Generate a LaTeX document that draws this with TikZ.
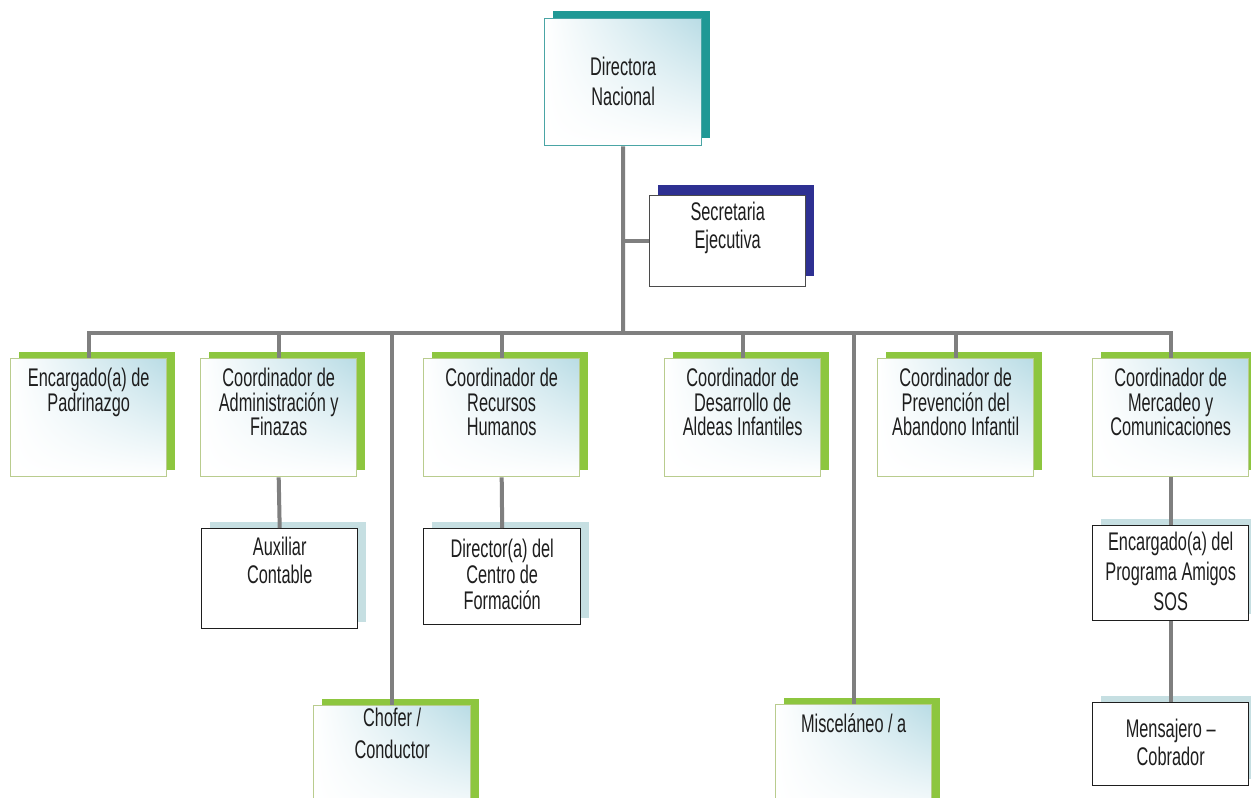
\documentclass[tikz,border=0pt]{standalone}
\usepackage{fontspec}
\newfontfamily\orgfont[FakeStretch=0.64]{Liberation Sans}
\usetikzlibrary{shadows,shadings}

\definecolor{leaf}{HTML}{8DC63F}
\definecolor{leafedge}{HTML}{B9CC8E}
\definecolor{teal}{HTML}{1F9895}
\definecolor{tealedge}{HTML}{4AA5A5}
\definecolor{navy}{HTML}{2E3092}
\definecolor{paleblue}{HTML}{B9DCE5}
\definecolor{iceblue}{HTML}{C6DFE2}
\definecolor{linegray}{HTML}{7F7F7F}
\definecolor{ink}{HTML}{1E1E1E}

\tikzset{
  boxw/.store in=\boxw, boxh/.store in=\boxh,
  firstbase/.store in=\boxtop, lskip/.store in=\boxskip,
  boxw=156pt, boxh=118pt, firstbase=28pt, lskip=24.5pt,
  unit/.style={anchor=north west, inner sep=0pt, text=ink, line width=1.4pt,
    execute at begin node={\orgfont\fontsize{25.5}{\boxskip}\selectfont
      \begin{minipage}[t][\boxh][t]{\boxw}\centering\rule{0pt}{\boxtop}},
    execute at end node={\end{minipage}}},
  shaded/.style={shade, upper left=white, upper right=paleblue,
    lower left=white, lower right=white},
  coord/.style={unit, shaded, draw=leafedge,
    general shadow={fill=leaf, shadow xshift=8pt, shadow yshift=7pt}},
  helper/.style={unit, fill=white, draw=ink,
    general shadow={fill=iceblue, shadow xshift=8pt, shadow yshift=7pt}},
  conn/.style={draw=linegray, line width=4pt}
}

\begin{document}
\begin{tikzpicture}[x=1pt,y=-1pt]
  \useasboundingbox (0,0) rectangle (1251,798);
  \clip (0,0) rectangle (1251,798);
  \fill[white] (0,0) rectangle (1251,798);

  % top of the chart
  \node[unit, shaded, draw=tealedge, boxw=157pt, boxh=127pt, firstbase=57pt, lskip=30pt,
    general shadow={fill=teal, shadow xshift=8pt, shadow yshift=8pt}]
    (dir) at (544,18) {Directora\\Nacional};
  \node[unit, fill=white, draw=ink!80, boxh=91pt, firstbase=25pt, lskip=28pt,
    general shadow={fill=navy, shadow xshift=8pt, shadow yshift=11pt}]
    (sec) at (649,195) {Secretaria\\Ejecutiva};

  % coordinators
  \node[coord] (padr) at (10,358) {Encargado(a) de\\Padrinazgo};
  \node[coord] (admin) at (200,358) {Coordinador de\\Administración y\\Finazas};
  \node[coord] (rrhh) at (423,358) {Coordinador de\\Recursos\\Humanos};
  \node[coord] (aldeas) at (664,358) {Coordinador de\\Desarrollo de\\Aldeas Infantiles};
  \node[coord] (prev) at (877,358) {Coordinador de\\Prevención del\\Abandono Infantil};
  \node[coord] (merc) at (1092,358) {Coordinador de\\Mercadeo y\\Comunicaciones};

  % staff
  \node[helper, boxh=100pt, firstbase=27pt, lskip=28pt] (aux) at (201,528) {Auxiliar\\Contable};
  \node[helper, boxw=157pt, boxh=96pt, firstbase=29pt, lskip=26pt] (centro) at (423,528) {Director(a) del\\Centro de\\Formación};
  \node[helper, boxh=95pt, firstbase=25pt, lskip=30pt] (amigos) at (1092,525) {Encargado(a) del\\Programa Amigos\\SOS};
  \node[helper, boxh=83pt, firstbase=35pt, lskip=28pt] (mens) at (1092,702) {Mensajero –\\Cobrador};
  \node[coord, boxw=157pt, firstbase=21pt, lskip=32pt] (chofer) at (313,705) {Chofer /\\Conductor};
  \node[coord] (misc) at (775,704) {Misceláneo / a};

  \coordinate (bus) at (623,333);

  \draw[conn] (dir.south) -- (bus);
  \draw[conn] (sec.west) -- (sec.west -| dir.south);
  \foreach \to in {padr,admin,chofer,rrhh,aldeas,misc,prev,merc}
    \draw[conn] (bus) -| (\to.north);
  \foreach \from/\to in {admin/aux,rrhh/centro,merc/amigos,amigos/mens}
    \draw[conn] (\from.south) -- (\to.north);

\end{tikzpicture}
\end{document}
